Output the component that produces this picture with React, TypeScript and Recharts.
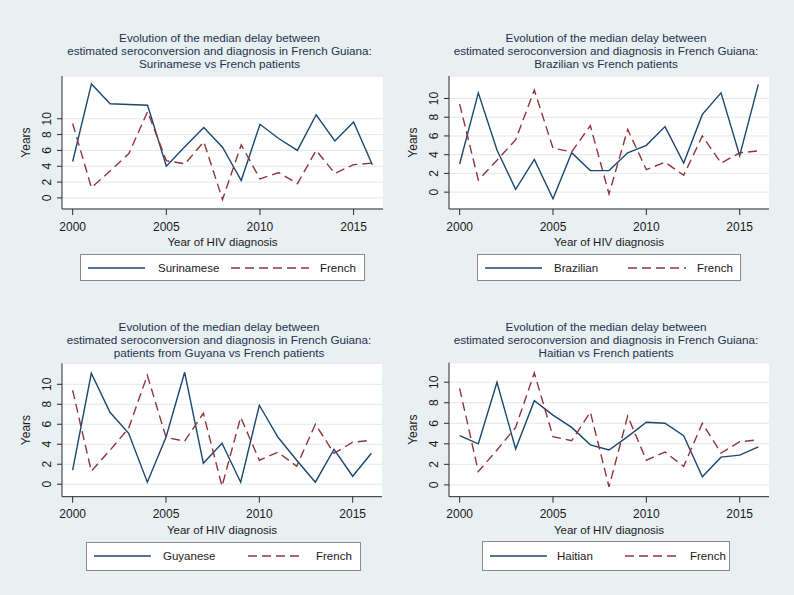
import { LineChart, Line, XAxis, YAxis, CartesianGrid, Legend } from "recharts";

// values
const years = [2000, 2001, 2002, 2003, 2004, 2005, 2006, 2007, 2008, 2009, 2010, 2011, 2012, 2013, 2014, 2015, 2016];
const french = [9.4, 1.3, 3.4, 5.6, 10.9, 4.7, 4.3, 7.1, -0.2, 6.7, 2.4, 3.2, 1.8, 6.0, 3.1, 4.2, 4.4];
const surinamese = [4.6, 14.4, 11.9, 11.8, 11.7, 4.0, 6.5, 8.9, 6.4, 2.2, 9.3, 7.5, 6.0, 10.5, 7.2, 9.6, 4.2];
const brazilian = [3.0, 10.6, 4.5, 0.3, 3.5, -0.7, 4.2, 2.3, 2.3, 4.2, 5.0, 7.0, 3.1, 8.3, 10.6, 3.9, 11.5];
const guyanese = [1.4, 11.1, 7.2, 5.1, 0.2, 4.7, 11.2, 2.1, 4.1, 0.2, 7.9, 4.7, 2.4, 0.2, 3.5, 0.8, 3.1];
const haitian = [4.8, 4.0, 10.0, 3.5, 8.2, 6.8, 5.6, 3.9, 3.4, 4.7, 6.1, 6.0, 4.8, 0.8, 2.7, 2.9, 3.7];

const xTicks = [2000, 2005, 2010, 2015];
const yTicks = [0, 2, 4, 6, 8, 10];

const NAVY = "#1a476f";
const MAROON = "#90353b";
const FONT = '"Liberation Sans", Arial, Helvetica, sans-serif';
const TEXT = "#1a1a1a";
const DASH = "9 5";

type LegendCfg = {
  x: number;
  y: number;
  w: number;
  h: number;
  label1: number;
  key2: number;
  key2Len: number;
  label2: number;
};

type PanelCfg = {
  left: number;
  top: number;
  height: number;
  subtitle: string;
  group: string;
  values: number[];
  yWidth: number;
  plotTop: number;
  plotRight: number;
  plotBottom: number;
  yDomain: [number, number];
  titleTop: number;
  legend: LegendCfg;
};

const panels: PanelCfg[] = [
  {
    left: 0, top: 0, height: 297,
    subtitle: "Surinamese vs French patients", group: "Surinamese", values: surinamese,
    yWidth: 62, plotTop: 76, plotRight: 383, plotBottom: 209, yDomain: [-1.4, 15.4], titleTop: 32,
    legend: { x: 80, y: 254, w: 285, h: 27, label1: 77, key2: 150, key2Len: 78, label2: 239 },
  },
  {
    left: 397, top: 0, height: 297,
    subtitle: "Brazilian vs French patients", group: "Brazilian", values: brazilian,
    yWidth: 52, plotTop: 76, plotRight: 372, plotBottom: 209, yDomain: [-1.8, 12.4], titleTop: 32,
    legend: { x: 80, y: 254, w: 264, h: 27, label1: 76, key2: 150, key2Len: 58, label2: 219 },
  },
  {
    left: 0, top: 295, height: 300,
    subtitle: "patients from Guyana vs French patients", group: "Guyanese", values: guyanese,
    yWidth: 62, plotTop: 68.3, plotRight: 382, plotBottom: 201.7, yDomain: [-1.25, 12.1], titleTop: 26.2,
    legend: { x: 86, y: 246.5, w: 275, h: 29.5, label1: 76, key2: 161, key2Len: 55, label2: 229 },
  },
  {
    left: 397, top: 295, height: 300,
    subtitle: "Haitian vs French patients", group: "Haitian", values: haitian,
    yWidth: 52, plotTop: 67.7, plotRight: 372, plotBottom: 201.7, yDomain: [-1.15, 11.9], titleTop: 26.4,
    legend: { x: 85, y: 246, w: 248, h: 30, label1: 74, key2: 142, key2Len: 56, label2: 207 },
  },
];

// Stata draws the y labels turned a quarter turn
const VerticalTick = (props: any) => {
  const { x, y, payload } = props;
  return (
    <text
      x={x}
      y={y}
      transform={`rotate(-90, ${x}, ${y})`}
      textAnchor="middle"
      fill={TEXT}
      fontSize={12}
      fontFamily={FONT}
    >
      {payload.value}
    </text>
  );
};

const keyLine = (len: number, color: string, dash?: string) => (
  <svg width={len} height={4} style={{ display: "block" }}>
    <line x1={0} y1={2} x2={len} y2={2} stroke={color} strokeWidth={1.5} strokeDasharray={dash} />
  </svg>
);

function Panel({ cfg }: { cfg: PanelCfg }) {
  const width = 397;
  const xAxisHeight = 40;
  const data = years.map((year, i) => ({ year, group: cfg.values[i], french: french[i] }));
  const lg = cfg.legend;
  const plotCenter = (cfg.yWidth + cfg.plotRight) / 2 - 3;

  const legendContent = () => (
    <div
      style={{
        position: "relative",
        width: lg.w,
        height: lg.h,
        boxSizing: "border-box",
        background: "#ffffff",
        border: "1px solid #8a8a8a",
        fontFamily: FONT,
        fontSize: 11.5,
        color: TEXT,
      }}
    >
      <div style={{ position: "absolute", left: 7, top: lg.h / 2 - 3 }}>{keyLine(57, NAVY)}</div>
      <div style={{ position: "absolute", left: lg.label1, top: lg.h / 2 - 8, lineHeight: "14px" }}>{cfg.group}</div>
      <div style={{ position: "absolute", left: lg.key2, top: lg.h / 2 - 3 }}>{keyLine(lg.key2Len, MAROON, DASH)}</div>
      <div style={{ position: "absolute", left: lg.label2, top: lg.h / 2 - 8, lineHeight: "14px" }}>French</div>
    </div>
  );

  return (
    <div style={{ position: "absolute", left: cfg.left, top: cfg.top, width, height: cfg.height }}>
      <LineChart
        width={width}
        height={cfg.height}
        data={data}
        margin={{ top: cfg.plotTop, right: width - cfg.plotRight, left: 0, bottom: cfg.height - cfg.plotBottom - xAxisHeight }}
      >
        <CartesianGrid horizontal vertical={false} stroke="#e0e9ec" fill="#ffffff" />
        <XAxis
          dataKey="year"
          type="number"
          domain={[1999.43, 2016.57]}
          allowDataOverflow
          ticks={xTicks}
          interval={0}
          height={xAxisHeight}
          tickSize={6}
          tickMargin={7}
          stroke="#2b2b2b"
          tick={{ fill: TEXT, fontSize: 12, fontFamily: FONT }}
          label={{ value: "Year of HIV diagnosis", position: "insideBottom", offset: 3, fill: TEXT, fontSize: 11.5, fontFamily: FONT }}
        />
        <YAxis
          type="number"
          domain={cfg.yDomain}
          allowDataOverflow
          ticks={yTicks}
          interval={0}
          width={cfg.yWidth}
          tickSize={5}
          tickMargin={6}
          stroke="#2b2b2b"
          tick={<VerticalTick />}
          label={{
            value: "Years",
            angle: -90,
            position: "insideLeft",
            offset: cfg.yWidth - 36,
            textAnchor: "middle",
            fill: TEXT,
            fontSize: 12,
            fontFamily: FONT,
          }}
        />
        <Line type="linear" dataKey="group" name={cfg.group} stroke={NAVY} strokeWidth={1.4} dot={false} isAnimationActive={false} />
        <Line type="linear" dataKey="french" name="French" stroke={MAROON} strokeWidth={1.4} strokeDasharray={DASH} dot={false} isAnimationActive={false} />
        <Legend
          layout="horizontal"
          verticalAlign="middle"
          align="center"
          content={legendContent}
          wrapperStyle={{ left: lg.x, top: lg.y, width: lg.w, height: lg.h }}
        />
      </LineChart>
      <div
        style={{
          position: "absolute",
          left: plotCenter - 190,
          width: 380,
          top: cfg.titleTop,
          textAlign: "center",
          fontFamily: FONT,
          fontSize: 11.7,
          lineHeight: "12.8px",
          color: "#1f3150",
          pointerEvents: "none",
        }}
      >
        <div>Evolution of the median delay between</div>
        <div>estimated seroconversion and diagnosis in French Guiana:</div>
        <div>{cfg.subtitle}</div>
      </div>
    </div>
  );
}

export default function App() {
  return (
    <div style={{ position: "absolute", left: 0, top: 0, width: 794, height: 595, background: "#e9f0f2", overflow: "hidden" }}>
      {panels.map((p) => (
        <Panel key={p.group} cfg={p} />
      ))}
    </div>
  );
}
